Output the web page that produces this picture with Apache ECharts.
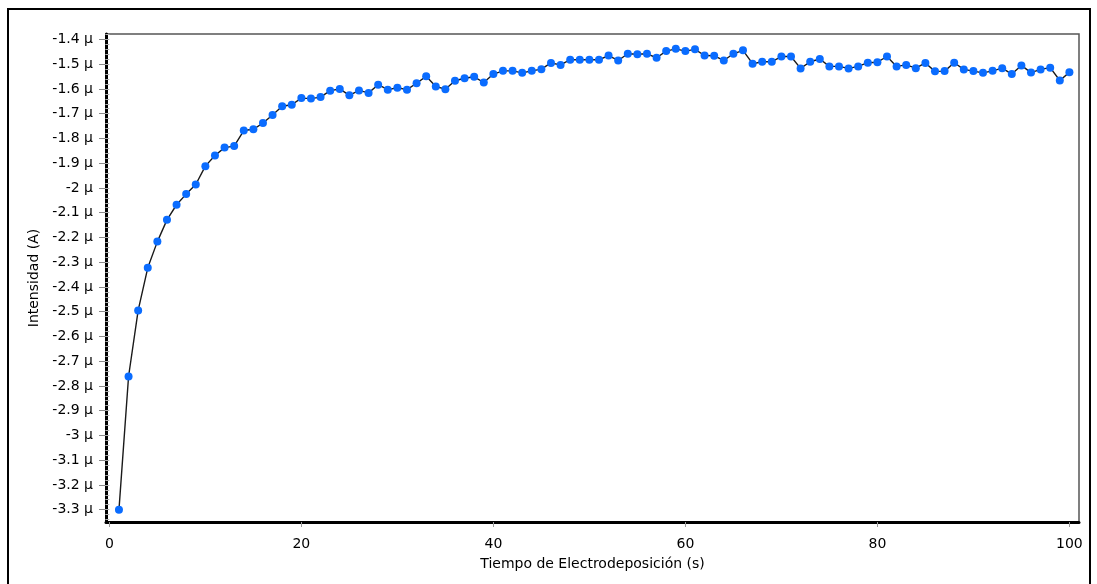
<!DOCTYPE html>
<html>
<head>
<meta charset="utf-8">
<script src="https://cdn.jsdelivr.net/npm/echarts@6/dist/echarts.min.js"></script>
<style>
  html, body { margin: 0; padding: 0; width: 1097px; height: 584px; overflow: hidden; background: #fff; }
  #frame { position: absolute; left: 7px; top: 8px; width: 1084px; height: 600px; border: 2px solid #000; box-sizing: border-box; }
  #chart { position: absolute; left: 0; top: 0; width: 1097px; height: 584px; }
</style>
</head>
<body>
<div id="frame"></div>
<div id="chart"></div>
<script>
// Electrodeposition time (s)
const tiempo = [
  1, 2, 3, 4, 5, 6, 7, 8, 9, 10,
  11, 12, 13, 14, 15, 16, 17, 18, 19, 20,
  21, 22, 23, 24, 25, 26, 27, 28, 29, 30,
  31, 32, 33, 34, 35, 36, 37, 38, 39, 40,
  41, 42, 43, 44, 45, 46, 47, 48, 49, 50,
  51, 52, 53, 54, 55, 56, 57, 58, 59, 60,
  61, 62, 63, 64, 65, 66, 67, 68, 69, 70,
  71, 72, 73, 74, 75, 76, 77, 78, 79, 80,
  81, 82, 83, 84, 85, 86, 87, 88, 89, 90,
  91, 92, 93, 94, 95, 96, 97, 98, 99, 100
];

// Current (microamperes)
const intensidad = [
  -3.301, -2.762, -2.495, -2.323, -2.217, -2.129, -2.068, -2.025, -1.986, -1.912,
  -1.869, -1.837, -1.831, -1.768, -1.763, -1.738, -1.705, -1.670, -1.664, -1.637,
  -1.639, -1.633, -1.607, -1.600, -1.626, -1.606, -1.616, -1.583, -1.603, -1.595,
  -1.603, -1.577, -1.549, -1.590, -1.601, -1.567, -1.557, -1.551, -1.574, -1.540,
  -1.527, -1.527, -1.535, -1.527, -1.520, -1.495, -1.503, -1.482, -1.482, -1.482,
  -1.482, -1.465, -1.485, -1.458, -1.460, -1.458, -1.474, -1.447, -1.438, -1.447,
  -1.440, -1.465, -1.466, -1.485, -1.458, -1.444, -1.498, -1.490, -1.490, -1.469,
  -1.469, -1.517, -1.490, -1.479, -1.509, -1.509, -1.517, -1.509, -1.494, -1.492,
  -1.469, -1.509, -1.503, -1.516, -1.495, -1.529, -1.528, -1.494, -1.521, -1.528,
  -1.535, -1.527, -1.516, -1.540, -1.505, -1.534, -1.521, -1.514, -1.566, -1.533
];

// Axis tick labels
const xTicks = [0, 20, 40, 60, 80, 100];
const yTicks = [-3.3, -3.2, -3.1, -3.0, -2.9, -2.8, -2.7, -2.6, -2.5, -2.4,
                -2.3, -2.2, -2.1, -2.0, -1.9, -1.8, -1.7, -1.6, -1.5, -1.4];

const Y_MIN = -3.35, Y_MAX = -1.378;
const X_MIN = -0.35, X_MAX = 101;

// minor ticks every 0.02 between the labelled ones
const yMinor = [];
for (let k = -167; k <= -69; k++) yMinor.push(+(k * 0.02).toFixed(2));

const FONT = '"DejaVu Sans", Verdana, sans-serif';
const gridBox = { left: 106, right: 18, top: 34, bottom: 62 };

const chart = echarts.init(document.getElementById('chart'), null, { renderer: 'canvas' });

chart.setOption({
  animation: false,
  backgroundColor: 'transparent',
  grid: [
    Object.assign({ show: true, borderColor: '#555', borderWidth: 1.5, backgroundColor: '#fff', containLabel: false }, gridBox),
    Object.assign({ show: false, containLabel: false }, gridBox)
  ],
  xAxis: [
    {
      type: 'value', gridIndex: 0, min: X_MIN, max: X_MAX,
      name: 'Tiempo de Electrodeposición (s)',
      nameLocation: 'middle', nameGap: 35,
      nameTextStyle: { fontFamily: FONT, fontSize: 14, color: '#000' },
      axisLine: { show: true, onZero: false, lineStyle: { color: '#000', width: 3 } },
      axisTick: { show: true, customValues: xTicks, length: 5, lineStyle: { color: '#999', width: 1 } },
      axisLabel: { customValues: xTicks, margin: 15, fontFamily: FONT, fontSize: 14, color: '#000' },
      splitLine: { show: false }
    },
    {
      type: 'value', gridIndex: 1, min: X_MIN, max: X_MAX, show: false
    }
  ],
  yAxis: [
    {
      type: 'value', gridIndex: 0, min: Y_MIN, max: Y_MAX,
      name: 'Intensidad (A)',
      nameLocation: 'middle', nameGap: 64, nameRotate: 90,
      nameTextStyle: { fontFamily: FONT, fontSize: 14, color: '#000' },
      axisLine: { show: true, onZero: false, lineStyle: { color: '#000', width: 3 } },
      axisTick: { show: true, customValues: yTicks, length: 7, lineStyle: { color: '#888', width: 1 } },
      axisLabel: {
        customValues: yTicks, margin: 13,
        fontFamily: FONT, fontSize: 14, color: '#000',
        formatter: v => (+v.toFixed(1)) + ' \u03bc'
      },
      splitLine: { show: false }
    },
    {
      type: 'value', gridIndex: 1, min: Y_MIN, max: Y_MAX,
      axisLine: { show: false },
      axisTick: { show: true, customValues: yMinor, length: 4, lineStyle: { color: '#b0b0b0', width: 1 } },
      axisLabel: { show: false },
      splitLine: { show: false }
    }
  ],
  series: [
    {
      type: 'line',
      xAxisIndex: 0, yAxisIndex: 0,
      data: tiempo.map((t, i) => [t, intensidad[i]]),
      symbol: 'circle',
      symbolSize: 8,
      showSymbol: true,
      itemStyle: { color: '#0a6cff', borderWidth: 0 },
      lineStyle: { color: '#1a1a1a', width: 1.4 },
      emphasis: { disabled: true }
    }
  ]
});
</script>
</body>
</html>
